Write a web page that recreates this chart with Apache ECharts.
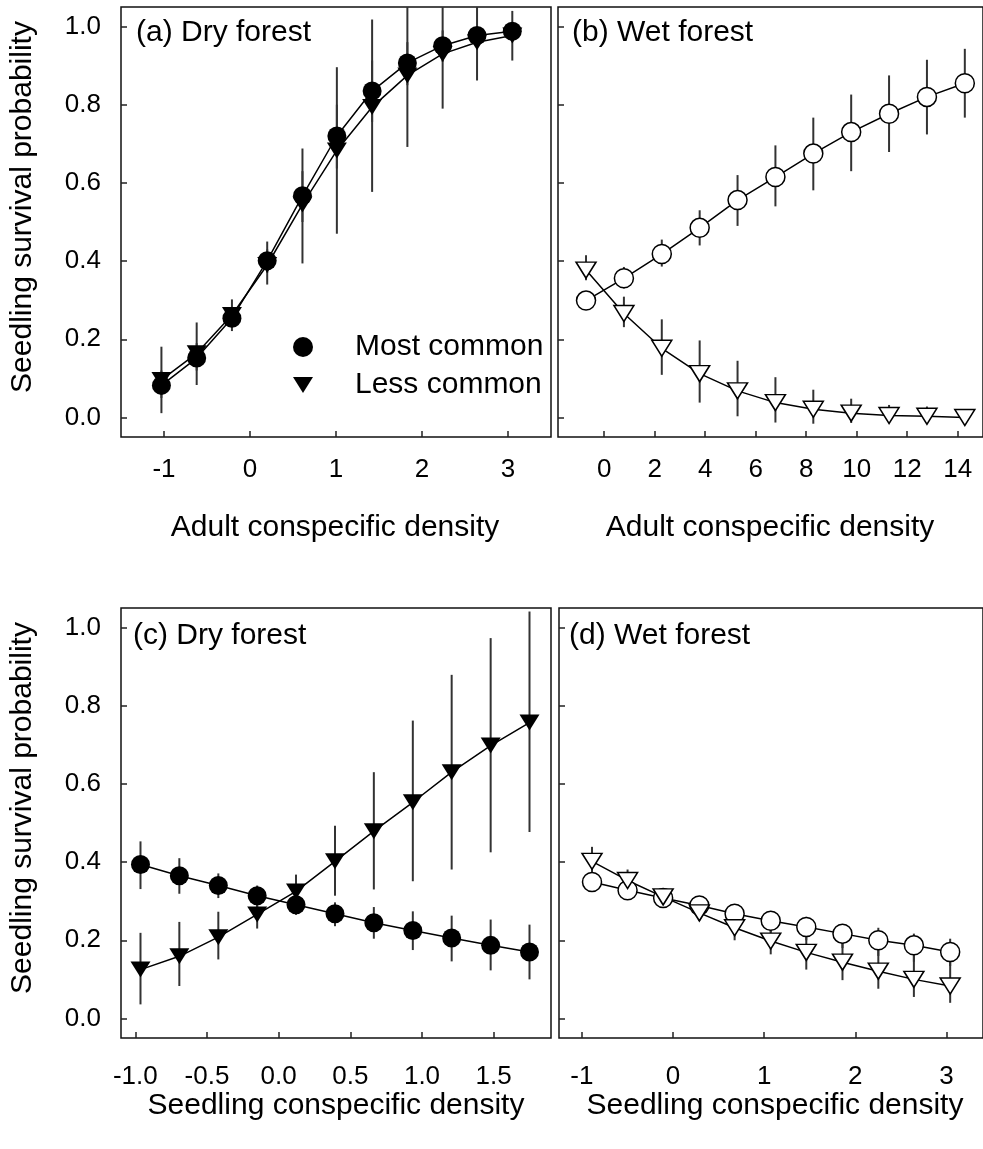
<!DOCTYPE html>
<html>
<head>
    <meta charset="utf-8">
    <title>Seedling survival</title>
    <script src="https://cdn.jsdelivr.net/npm/echarts@6/dist/echarts.min.js"></script>
    <style>
        html, body { margin: 0; padding: 0; background: #fff; }
    </style>
</head>
<body>
    <div id="main" style="width: 983px;height:1149px;"></div>
    <script type="text/javascript">
        // tick labels
        var yTicks = [0, 0.2, 0.4, 0.6, 0.8, 1.0];
        var aTicks = [-1, 0, 1, 2, 3];
        var bTicks = [0, 2, 4, 6, 8, 10, 12, 14];
        var cTicks = [-1.0, -0.5, 0.0, 0.5, 1.0, 1.5];
        var dTicks = [-1, 0, 1, 2, 3];

        // (a) dry forest, adult density
        var aX = [-1.03, -0.62, -0.21, 0.2, 0.61, 1.01, 1.42, 1.83, 2.24, 2.64, 3.05];
        var aMostY = [0.082, 0.152, 0.254, 0.401, 0.567, 0.72, 0.835, 0.907, 0.951, 0.977, 0.988];
        var aMostLo = [0.05, 0.12, 0.23, 0.37, 0.5, 0.637, 0.756, 0.85, 0.91, 0.95, 0.97];
        var aMostHi = [0.12, 0.19, 0.28, 0.43, 0.63, 0.8, 0.913, 0.96, 0.99, 1.0, 1.0];
        var aLessY = [0.096, 0.164, 0.262, 0.39, 0.545, 0.683, 0.794, 0.875, 0.93, 0.96, 0.977];
        var aLessLo = [0.011, 0.083, 0.221, 0.34, 0.394, 0.47, 0.577, 0.692, 0.79, 0.862, 0.913];
        var aLessHi = [0.181, 0.243, 0.302, 0.45, 0.688, 0.896, 1.018, 1.12, 1.12, 1.1, 1.04];

        // (b) wet forest, adult density
        var bX = [-0.72, 0.78, 2.28, 3.78, 5.28, 6.78, 8.28, 9.78, 11.28, 12.78, 14.28];
        var bMostY = [0.299, 0.356, 0.418, 0.485, 0.556, 0.615, 0.675, 0.73, 0.777, 0.82, 0.855];
        var bMostLo = [0.28, 0.33, 0.386, 0.44, 0.49, 0.54, 0.581, 0.63, 0.679, 0.724, 0.767];
        var bMostHi = [0.32, 0.385, 0.455, 0.53, 0.62, 0.696, 0.767, 0.826, 0.875, 0.915, 0.943];
        var bLessY = [0.377, 0.266, 0.177, 0.112, 0.068, 0.038, 0.021, 0.011, 0.005, 0.003, 0.0];
        var bLessLo = [0.351, 0.231, 0.109, 0.038, 0.003, -0.013, -0.016, -0.014, -0.01, -0.006, -0.004];
        var bLessHi = [0.415, 0.309, 0.251, 0.197, 0.145, 0.103, 0.071, 0.048, 0.032, 0.028, 0.01];

        // (c) dry forest, seedling density
        var cX = [-0.964, -0.693, -0.421, -0.15, 0.121, 0.393, 0.664, 0.936, 1.207, 1.479, 1.75];
        var cMostY = [0.394, 0.365, 0.34, 0.314, 0.291, 0.268, 0.245, 0.225, 0.206, 0.187, 0.17];
        var cMostLo = [0.331, 0.319, 0.308, 0.285, 0.265, 0.236, 0.204, 0.175, 0.146, 0.123, 0.1];
        var cMostHi = [0.453, 0.41, 0.371, 0.34, 0.315, 0.297, 0.285, 0.274, 0.263, 0.253, 0.24];
        var cLessY = [0.125, 0.159, 0.208, 0.266, 0.325, 0.402, 0.479, 0.553, 0.63, 0.698, 0.757];
        var cLessLo = [0.036, 0.083, 0.151, 0.23, 0.29, 0.314, 0.33, 0.351, 0.381, 0.425, 0.477];
        var cLessHi = [0.219, 0.247, 0.273, 0.31, 0.368, 0.493, 0.63, 0.762, 0.879, 0.973, 1.041];

        // (d) wet forest, seedling density
        var dX = [-0.888, -0.498, -0.108, 0.289, 0.676, 1.072, 1.462, 1.859, 2.252, 2.642, 3.04];
        var dMostY = [0.349, 0.328, 0.308, 0.289, 0.268, 0.25, 0.234, 0.217, 0.2, 0.187, 0.17];
        var dMostLo = [0.33, 0.31, 0.29, 0.27, 0.245, 0.22, 0.2, 0.18, 0.16, 0.145, 0.134];
        var dMostHi = [0.365, 0.345, 0.325, 0.31, 0.29, 0.275, 0.26, 0.24, 0.232, 0.217, 0.204];
        var dLessY = [0.402, 0.353, 0.311, 0.27, 0.232, 0.198, 0.169, 0.144, 0.121, 0.1, 0.083];
        var dLessLo = [0.37, 0.33, 0.29, 0.25, 0.2, 0.164, 0.125, 0.098, 0.076, 0.055, 0.04];
        var dLessHi = [0.439, 0.381, 0.331, 0.3, 0.266, 0.235, 0.21, 0.193, 0.176, 0.162, 0.146];

        var FONT = 'Liberation Sans, Arial, sans-serif';
        var TRI_DOWN = 'path://M0,0 L20,0 L10,16 Z';

        function pairs(xs, ys){
            var out = [];
            for (var i = 0; i < xs.length; i++) {
                out.push([xs[i], ys[i]]);
            }
            return out;
        }
        function triples(xs, lo, hi){
            var out = [];
            for (var i = 0; i < xs.length; i++) {
                out.push([xs[i], lo[i], hi[i]]);
            }
            return out;
        }

        function errRender(params, api){
            var x = api.value(0);
            var p1 = api.coord([x, api.value(1)]);
            var p2 = api.coord([x, api.value(2)]);
            return {
                type: 'line',
                shape: { x1: p1[0], y1: p1[1], x2: p2[0], y2: p2[1] },
                style: { stroke: '#333', lineWidth: 2 }
            };
        }

        function errSeries(idx, xs, lo, hi){
            return {
                type: 'custom',
                xAxisIndex: idx,
                yAxisIndex: idx,
                renderItem: errRender,
                clip: true,
                silent: true,
                z: 1,
                data: triples(xs, lo, hi)
            };
        }

        function lineSeries(idx, name, xs, ys, tri, filled){
            return {
                name: name,
                type: 'line',
                xAxisIndex: idx,
                yAxisIndex: idx,
                data: pairs(xs, ys),
                symbol: tri ? 'triangle' : 'circle',
                symbolRotate: tri ? 180 : 0,
                symbolSize: tri ? [20, 16] : 19,
                lineStyle: { color: '#000', width: 1.5 },
                itemStyle: filled ? { color: '#000' } : { color: '#fff', borderColor: '#000', borderWidth: 1.5 },
                emphasis: { disabled: true },
                silent: true,
                z: 3
            };
        }

        function xAxisOf(idx, min, max, ticks, digits, margin){
            return {
                type: 'value',
                gridIndex: idx,
                position: 'bottom',
                min: min,
                max: max,
                axisLine: { show: false, onZero: false },
                splitLine: { show: false },
                axisTick: { inside: true, length: 6, customValues: ticks, lineStyle: { color: '#222', width: 1.5 } },
                axisLabel: {
                    customValues: ticks,
                    margin: margin,
                    fontSize: 26,
                    color: '#000',
                    fontFamily: FONT,
                    formatter: function(v){ return v.toFixed(digits); }
                }
            };
        }

        function yAxisOf(idx, showLabel){
            return {
                type: 'value',
                gridIndex: idx,
                position: 'left',
                min: -0.05,
                max: 1.05,
                axisLine: { show: false, onZero: false },
                splitLine: { show: false },
                axisTick: { inside: true, length: 6, customValues: yTicks, lineStyle: { color: '#222', width: 1.5 } },
                axisLabel: {
                    show: showLabel,
                    customValues: yTicks,
                    margin: 20,
                    fontSize: 26,
                    color: '#000',
                    fontFamily: FONT,
                    formatter: function(v){ return v.toFixed(1); }
                }
            };
        }

        function gridOf(left, top){
            return {
                left: left, top: top, width: 430, height: 430,
                show: true, borderColor: '#111', borderWidth: 1.5, backgroundColor: 'transparent'
            };
        }

        function txt(x, y, s, rot, align){
            return {
                type: 'text',
                x: x,
                y: y,
                rotation: rot || 0,
                style: {
                    text: s,
                    fontSize: 30,
                    fontFamily: FONT,
                    fill: '#000',
                    textAlign: align || 'center',
                    textVerticalAlign: 'middle'
                }
            };
        }

        var option = {
            animation: false,
            backgroundColor: '#fff',
            grid: [gridOf(121, 7), gridOf(558, 7), gridOf(121, 608), gridOf(559, 608)],
            xAxis: [
                xAxisOf(0, -1.5, 3.5, aTicks, 0, 20),
                xAxisOf(1, -1.83, 15, bTicks, 0, 20),
                xAxisOf(2, -1.1, 1.9, cTicks, 1, 26),
                xAxisOf(3, -1.25, 3.4, dTicks, 0, 26)
            ],
            yAxis: [yAxisOf(0, true), yAxisOf(1, false), yAxisOf(2, true), yAxisOf(3, false)],
            legend: {
                orient: 'vertical',
                left: 288,
                top: 327,
                itemWidth: 20,
                itemHeight: 20,
                itemGap: 8,
                selectedMode: false,
                textStyle: { fontSize: 30, fontFamily: FONT, color: '#000', padding: [0, 0, 0, 37] },
                data: [
                    { name: 'Most common', icon: 'circle' },
                    { name: 'Less common', icon: TRI_DOWN }
                ]
            },
            graphic: [
                txt(23, 207, 'Seedling survival probability', Math.PI / 2),
                txt(23, 808, 'Seedling survival probability', Math.PI / 2),
                txt(335, 528, 'Adult conspecific density'),
                txt(770, 528, 'Adult conspecific density'),
                txt(336, 1106, 'Seedling conspecific density'),
                txt(775, 1106, 'Seedling conspecific density'),
                txt(136, 33, '(a) Dry forest', 0, 'left'),
                txt(572, 33, '(b) Wet forest', 0, 'left'),
                txt(133, 636, '(c) Dry forest', 0, 'left'),
                txt(569, 636, '(d) Wet forest', 0, 'left')
            ],
            series: [
                errSeries(0, aX, aLessLo, aLessHi),
                errSeries(0, aX, aMostLo, aMostHi),
                lineSeries(0, 'Most common', aX, aMostY, false, true),
                lineSeries(0, 'Less common', aX, aLessY, true, true),

                errSeries(1, bX, bMostLo, bMostHi),
                errSeries(1, bX, bLessLo, bLessHi),
                lineSeries(1, 'Most common', bX, bMostY, false, false),
                lineSeries(1, 'Less common', bX, bLessY, true, false),

                errSeries(2, cX, cMostLo, cMostHi),
                errSeries(2, cX, cLessLo, cLessHi),
                lineSeries(2, 'Less common', cX, cLessY, true, true),
                lineSeries(2, 'Most common', cX, cMostY, false, true),

                errSeries(3, dX, dMostLo, dMostHi),
                errSeries(3, dX, dLessLo, dLessHi),
                lineSeries(3, 'Most common', dX, dMostY, false, false),
                lineSeries(3, 'Less common', dX, dLessY, true, false)
            ]
        };

        var myChart = echarts.init(document.getElementById('main'));
        myChart.setOption(option);
    </script>
</body>
</html>
